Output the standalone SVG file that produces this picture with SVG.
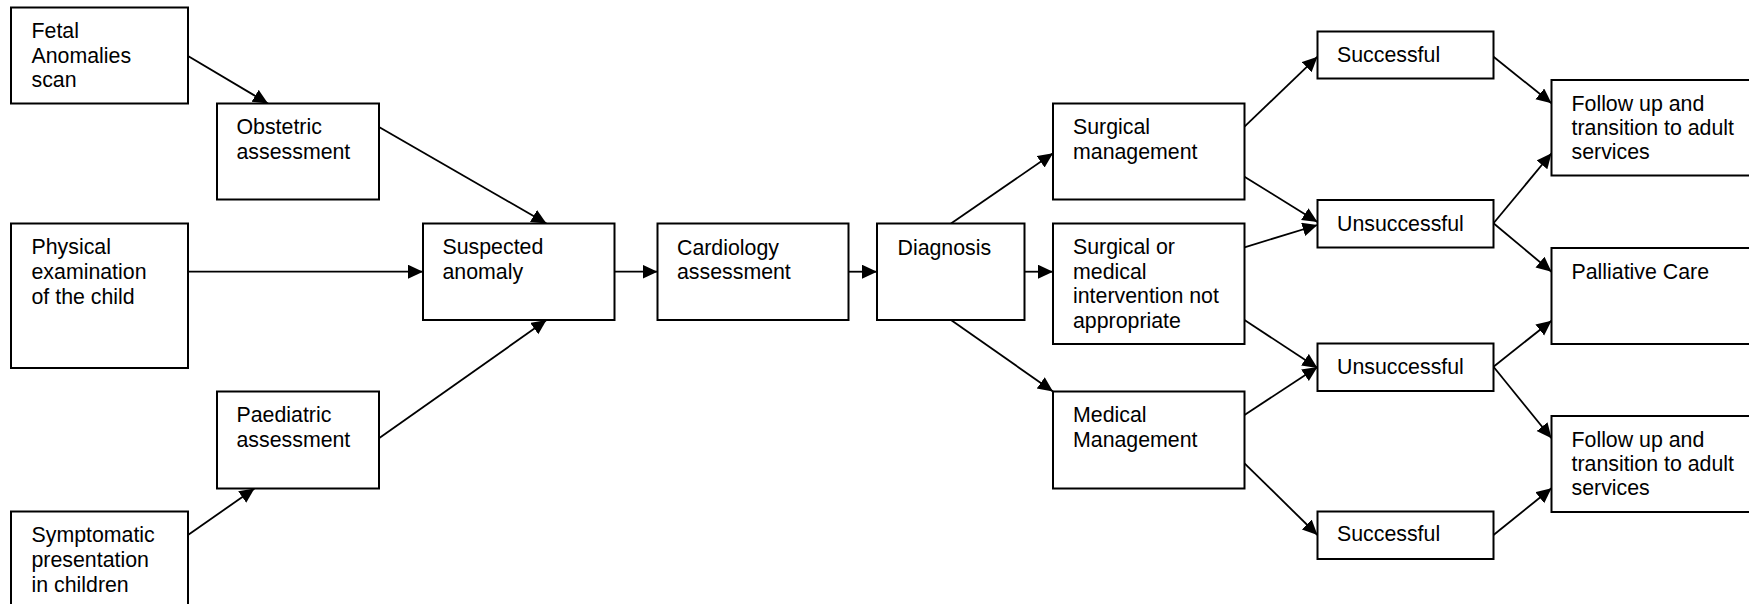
<svg xmlns="http://www.w3.org/2000/svg" width="1749" height="604" viewBox="0 0 1749 604">
<defs>
<style>
rect{fill:#fff;stroke:#000;stroke-width:2}
text{font-family:"Liberation Sans",Arial,sans-serif;font-size:21.33px;fill:#000}
#connectors path{fill:none;stroke:#000;stroke-width:1.8}
</style>
<marker id="ah" markerUnits="userSpaceOnUse" markerWidth="17" markerHeight="16" refX="15" refY="7" orient="auto">
<path d="M0,0 L15,7 L0,14 Z" fill="#000"/>
</marker>
</defs>
<rect x="0" y="0" width="1749" height="604" style="stroke:none"/>
<g id="connectors" marker-end="url(#ah)">
<path d="M188,56 L268,103.5"/>
<path d="M379,127 L546.5,223.5"/>
<path d="M188,271.7 L423,271.7"/>
<path d="M379,438.3 L546.5,320"/>
<path d="M188,535 L254.5,488.5"/>
<path d="M614.5,271.7 L657.5,271.7"/>
<path d="M848.5,271.7 L877,271.7"/>
<path d="M951,223.5 L1053,153.3"/>
<path d="M1024.5,271.7 L1053,271.7"/>
<path d="M951,320 L1053,391.5"/>
<path d="M1244.5,126.7 L1317.5,56.7"/>
<path d="M1244.5,176.7 L1317.5,222"/>
<path d="M1244.5,247.3 L1317.5,225"/>
<path d="M1244.5,320 L1317.5,368"/>
<path d="M1244.5,415 L1317.5,367"/>
<path d="M1244.5,463.3 L1317.5,535"/>
<path d="M1493.5,56.7 L1551.5,103.3"/>
<path d="M1493.5,223.3 L1551.5,153.3"/>
<path d="M1493.5,223.3 L1551.5,271.7"/>
<path d="M1493.5,366.7 L1551.5,320.7"/>
<path d="M1493.5,366.7 L1551.5,438.3"/>
<path d="M1493.5,535 L1551.5,488.3"/>
</g>
<g id="fetal"><rect x="11" y="7.5" width="177" height="96"/><text x="31.5" y="38"><tspan x="31.5">Fetal</tspan><tspan x="31.5" dy="24.6">Anomalies</tspan><tspan x="31.5" dy="24.6">scan</tspan></text></g>
<g id="obstetric"><rect x="217" y="103.5" width="162" height="96"/><text y="134.3"><tspan x="236.5">Obstetric</tspan><tspan x="236.5" dy="24.6">assessment</tspan></text></g>
<g id="physical"><rect x="11" y="223.5" width="177" height="144.5"/><text y="254.3"><tspan x="31.5">Physical</tspan><tspan x="31.5" dy="24.6">examination</tspan><tspan x="31.5" dy="24.6">of the child</tspan></text></g>
<g id="suspected"><rect x="423" y="223.5" width="191.5" height="96.5"/><text y="254.3"><tspan x="442.5">Suspected</tspan><tspan x="442.5" dy="24.6">anomaly</tspan></text></g>
<g id="paediatric"><rect x="217" y="391.5" width="162" height="97"/><text y="422.3"><tspan x="236.5">Paediatric</tspan><tspan x="236.5" dy="24.6">assessment</tspan></text></g>
<g id="symptomatic"><rect x="11" y="511.5" width="177" height="96"/><text y="542.3"><tspan x="31.5">Symptomatic</tspan><tspan x="31.5" dy="24.6">presentation</tspan><tspan x="31.5" dy="24.6">in children</tspan></text></g>
<g id="cardiology"><rect x="657.5" y="223.5" width="191" height="96.5"/><text y="254.5"><tspan x="677">Cardiology</tspan><tspan x="677" dy="24.6">assessment</tspan></text></g>
<g id="diagnosis"><rect x="877" y="223.5" width="147.5" height="96.5"/><text x="897.5" y="254.5">Diagnosis</text></g>
<g id="surgical-management"><rect x="1053" y="103.5" width="191.5" height="96"/><text y="134.3"><tspan x="1073">Surgical</tspan><tspan x="1073" dy="24.6">management</tspan></text></g>
<g id="not-appropriate"><rect x="1053" y="223.5" width="191.5" height="120.5"/><text y="254.3"><tspan x="1073">Surgical or</tspan><tspan x="1073" dy="24.4">medical</tspan><tspan x="1073" dy="24.4">intervention not</tspan><tspan x="1073" dy="24.4">appropriate</tspan></text></g>
<g id="medical-management"><rect x="1053" y="391.5" width="191.5" height="97"/><text y="422"><tspan x="1073">Medical</tspan><tspan x="1073" dy="24.6">Management</tspan></text></g>
<g id="successful-1"><rect x="1317.5" y="31.5" width="176" height="47"/><text x="1337" y="62">Successful</text></g>
<g id="unsuccessful-1"><rect x="1317.5" y="200" width="176" height="47.5"/><text x="1337" y="230.5">Unsuccessful</text></g>
<g id="unsuccessful-2"><rect x="1317.5" y="343.5" width="176" height="47.5"/><text x="1337" y="374">Unsuccessful</text></g>
<g id="successful-2"><rect x="1317.5" y="511.5" width="176" height="47.5"/><text x="1337" y="541">Successful</text></g>
<g id="follow-up-1"><rect x="1551.5" y="80" width="210" height="95.5"/><text y="110.5"><tspan x="1571.5">Follow up and</tspan><tspan x="1571.5" dy="24.4">transition to adult</tspan><tspan x="1571.5" dy="24.4">services</tspan></text></g>
<g id="palliative"><rect x="1551.5" y="248" width="210" height="96"/><text x="1571.5" y="278.5">Palliative Care</text></g>
<g id="follow-up-2"><rect x="1551.5" y="416" width="210" height="96"/><text y="446.5"><tspan x="1571.5">Follow up and</tspan><tspan x="1571.5" dy="24.4">transition to adult</tspan><tspan x="1571.5" dy="24.4">services</tspan></text></g>
</svg>
